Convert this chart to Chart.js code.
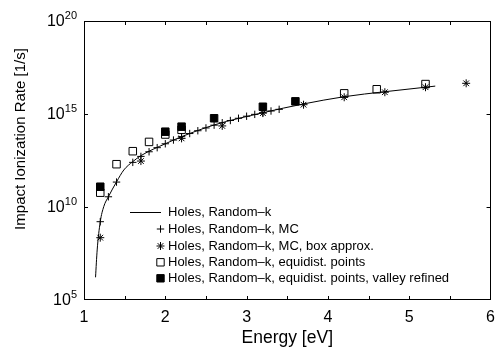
<!DOCTYPE html>
<html>
<head>
<meta charset="utf-8">
<script src="https://cdn.jsdelivr.net/npm/chart.js@4/dist/chart.umd.min.js"></script>
<style>
  html, body { margin: 0; padding: 0; background: #fff; }
  #wrap { width: 503px; height: 351px; }
</style>
</head>
<body>
<div id="wrap"><canvas id="c" width="503" height="351"></canvas></div>
<script>
// ---- Data ----
const xTickLabels = [1, 2, 3, 4, 5, 6];
const yTickExponents = [5, 10, 15, 20];

const seriesNames = [
  'Holes, Random\u2013k',
  'Holes, Random\u2013k, MC',
  'Holes, Random\u2013k, MC, box approx.',
  'Holes, Random\u2013k, equidist. points',
  'Holes, Random\u2013k, equidist. points, valley refined'
];

// Line: Holes, Random-k
const lineE    = [1.142, 1.162, 1.2, 1.243, 1.3, 1.4, 1.49, 1.6, 1.7, 2.0, 2.2, 2.6, 3.2, 3.7, 4.2, 4.7, 5.2, 5.32];
const lineRate = [1.66e6, 4.9e7, 1.6e9, 1.05e10, 3.55e10, 2.24e11, 9.8e11, 2.75e12, 5.75e12, 2.51e13, 6.03e13, 2.57e14, 1.17e15, 3.47e15, 8.51e15, 1.58e16, 2.75e16, 3.16e16];

// Plus: MC
const mcE    = [1.2, 1.3, 1.4, 1.6, 1.7, 1.8, 1.9, 2.0, 2.1, 2.2, 2.3, 2.4, 2.5, 2.6, 2.7, 2.8, 2.9, 3.0, 3.1, 3.2, 3.3, 3.4];
const mcRate = [1.62e9, 3.55e10, 2.19e11, 2.51e12, 5.25e12, 9.33e12, 1.55e13, 2.51e13, 3.98e13, 6.03e13, 8.91e13, 1.26e14, 1.78e14, 2.51e14, 3.39e14, 4.47e14, 5.89e14, 7.59e14, 9.55e14, 1.17e15, 1.45e15, 1.78e15];

// Star: MC, box approx.
const boxE    = [1.2, 1.7, 2.2, 2.7, 3.2, 3.7, 4.2, 4.7, 5.2, 5.7];
const boxRate = [2.24e8, 2.95e12, 4.9e13, 2.29e14, 1.12e15, 3.16e15, 7.94e15, 1.48e16, 2.75e16, 4.47e16];

// Open square: equidist. points
const eqE    = [1.2, 1.4, 1.6, 1.8, 2.0, 2.2, 4.2, 4.6, 5.2];
const eqRate = [5.89e10, 2.0e12, 1.0e13, 3.16e13, 7.9e13, 1.41e14, 1.29e16, 2.14e16, 4.07e16];

// Filled square: equidist. points, valley refined
const valE    = [1.2, 2.0, 2.2, 2.6, 3.2, 3.6];
const valRate = [1.23e11, 1.12e14, 2.09e14, 5.89e14, 2.45e15, 4.79e15];

const pts = (xs, ys) => xs.map((x, i) => ({ x: x, y: ys[i] }));

const FONT = "'Liberation Sans', Arial, Helvetica, sans-serif";

// marker drawing for legend
function drawMarker(ctx, kind, x, y) {
  ctx.save();
  ctx.strokeStyle = '#000';
  ctx.fillStyle = '#000';
  ctx.lineWidth = 1;
  ctx.beginPath();
  if (kind === 'cross') {
    ctx.moveTo(x - 3.7, y); ctx.lineTo(x + 3.7, y);
    ctx.moveTo(x, y - 3.7); ctx.lineTo(x, y + 3.7);
    ctx.stroke();
  } else if (kind === 'star') {
    const r = 4, d = r * Math.SQRT1_2;
    ctx.moveTo(x - r, y); ctx.lineTo(x + r, y);
    ctx.moveTo(x, y - r); ctx.lineTo(x, y + r);
    ctx.moveTo(x - d, y - d); ctx.lineTo(x + d, y + d);
    ctx.moveTo(x - d, y + d); ctx.lineTo(x + d, y - d);
    ctx.stroke();
  } else if (kind === 'open') {
    ctx.rect(x - 3.7, y - 3.7, 7.4, 7.4);
    ctx.stroke();
  } else if (kind === 'filled') {
    ctx.rect(x - 3.7, y - 3.7, 7.4, 7.4);
    ctx.fill(); ctx.stroke();
  }
  ctx.restore();
}

const decorPlugin = {
  id: 'decor',
  afterDatasetsDraw(chart) {
    const { ctx, chartArea: a, scales } = chart;
    const xs = scales.x, ys = scales.y;
    ctx.save();
    // frame
    ctx.strokeStyle = '#000';
    ctx.lineWidth = 1;
    ctx.strokeRect(Math.round(a.left) + 0.5, Math.round(a.top) + 0.5,
                   Math.round(a.right - a.left) - 1, Math.round(a.bottom - a.top) - 1);
    // inside ticks on x (every 0.5)
    ctx.beginPath();
    for (let v = 1.5; v < 6; v += 0.5) {
      const px = Math.round(xs.getPixelForValue(v)) + 0.5;
      ctx.moveTo(px, a.bottom); ctx.lineTo(px, a.bottom - 4);
      ctx.moveTo(px, a.top); ctx.lineTo(px, a.top + 4);
    }
    // inside ticks on y
    yTickExponents.forEach(e => {
      if (e === 5 || e === 20) return;
      const py = Math.round(ys.getPixelForValue(Math.pow(10, e))) + 0.5;
      ctx.moveTo(a.left, py); ctx.lineTo(a.left + 4, py);
      ctx.moveTo(a.right, py); ctx.lineTo(a.right - 4, py);
    });
    ctx.stroke();

    // y tick labels 10^e
    ctx.fillStyle = '#000';
    yTickExponents.forEach(e => {
      const py = ys.getPixelForValue(Math.pow(10, e));
      const exp = String(e);
      ctx.font = '11px ' + FONT;
      const we = ctx.measureText(exp).width;
      ctx.font = '16px ' + FONT;
      const wb = ctx.measureText('10').width;
      const right = 77;
      ctx.textBaseline = 'middle';
      ctx.textAlign = 'left';
      ctx.fillText('10', right - we - wb, py + 1);
      ctx.font = '11px ' + FONT;
      ctx.textBaseline = 'alphabetic';
      ctx.fillText(exp, right - we, py - 2);
    });

    // y axis title
    ctx.save();
    ctx.translate(21, 139);
    ctx.rotate(-Math.PI / 2);
    ctx.font = '15px ' + FONT;
    ctx.textAlign = 'center';
    ctx.textBaseline = 'middle';
    ctx.fillText('Impact Ionization Rate [1/s]', 0, 0);
    ctx.restore();

    // legend
    const rows = [212.3, 229, 246, 262.3, 278.3];
    const kinds = ['line', 'cross', 'star', 'open', 'filled'];
    ctx.font = '13px ' + FONT;
    ctx.textAlign = 'left';
    ctx.textBaseline = 'middle';
    rows.forEach((ry, i) => {
      if (kinds[i] === 'line') {
        ctx.beginPath();
        ctx.moveTo(130, Math.round(ry) + 0.5);
        ctx.lineTo(161, Math.round(ry) + 0.5);
        ctx.lineWidth = 1;
        ctx.stroke();
      } else {
        drawMarker(ctx, kinds[i], 160.5, ry);
      }
      ctx.fillText(seriesNames[i], 168, ry + 0.5);
    });
    ctx.restore();
  }
};

new Chart(document.getElementById('c'), {
  type: 'scatter',
  data: {
    datasets: [
      { label: seriesNames[4], data: pts(valE, valRate), pointStyle: 'rect', pointRadius: 5.3,
        backgroundColor: '#000', borderColor: '#000', borderWidth: 1, order: 1 },
      { label: seriesNames[2], data: pts(boxE, boxRate), pointStyle: 'star', pointRadius: 4,
        borderColor: '#000', backgroundColor: '#000', borderWidth: 1, order: 2 },
      { label: seriesNames[1], data: pts(mcE, mcRate), pointStyle: 'cross', pointRadius: 3.7,
        borderColor: '#000', backgroundColor: '#000', borderWidth: 1, order: 3 },
      { label: seriesNames[3], data: pts(eqE, eqRate), pointStyle: 'rect', pointRadius: 5.3,
        backgroundColor: 'rgba(0,0,0,0)', borderColor: '#000', borderWidth: 1, order: 4 },
      { label: seriesNames[0], data: pts(lineE, lineRate), showLine: true, pointRadius: 0,
        borderColor: '#000', borderWidth: 1, cubicInterpolationMode: 'monotone', fill: false, order: 5 }
    ]
  },
  options: {
    responsive: false,
    animation: false,
    devicePixelRatio: 1,
    layout: { padding: { top: 21, right: 8, left: 0, bottom: 0 } },
    plugins: { legend: { display: false }, tooltip: { enabled: false } },
    scales: {
      x: {
        type: 'linear', min: 1, max: 6,
        grid: { display: false, drawTicks: false },
        border: { display: false },
        ticks: { stepSize: 1, color: '#000', padding: 8, font: { family: FONT, size: 16 },
                 callback: (v) => xTickLabels.includes(v) ? String(v) : '' },
        title: { display: true, text: 'Energy [eV]', color: '#000', font: { family: FONT, size: 17.5 },
                 padding: { top: 0, bottom: 2 } },
        afterFit: (s) => { s.height = 51; }
      },
      y: {
        type: 'logarithmic', min: 1e5, max: 1e20,
        grid: { display: false, drawTicks: false },
        border: { display: false },
        ticks: { display: false },
        afterFit: (s) => { s.width = 84; }
      }
    }
  },
  plugins: [decorPlugin]
});
</script>
</body>
</html>
